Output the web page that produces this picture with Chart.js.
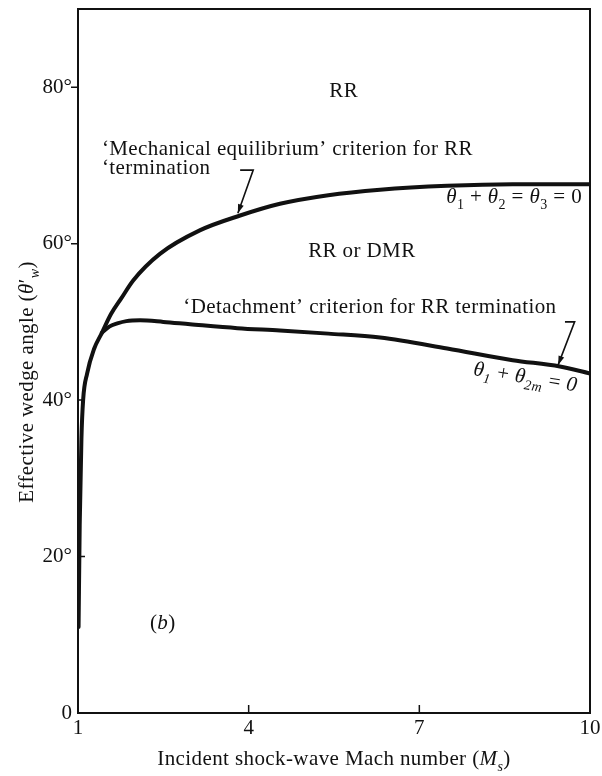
<!DOCTYPE html>
<html>
<head>
<meta charset="utf-8">
<script src="https://cdn.jsdelivr.net/npm/chart.js@4/dist/chart.umd.min.js"></script>
<style>
  html, body { margin: 0; padding: 0; background: #fff; }
  canvas { display: block; }
</style>
</head>
<body>
<canvas id="chart" width="602" height="776"></canvas>
<script>
// 'Mechanical equilibrium' criterion (theta1 + theta2 = theta3 = 0)
const machMech  = [1.01, 1.03, 1.06, 1.09, 1.16, 1.28, 1.42, 1.58, 1.76, 1.97, 2.44, 3.14, 3.85, 4.55, 5.4, 6.31, 7.49, 8.64, 10];
const thetaMech = [11, 24, 35, 40, 43.4, 46.5, 48.6, 51.0, 53.0, 55.3, 58.7, 61.7, 63.6, 65.1, 66.2, 66.9, 67.4, 67.6, 67.6];

// 'Detachment' criterion (theta1 + theta2m = 0), splits off at Ms ~ 1.4
const machDetach  = [1.42, 1.55, 1.69, 1.85, 2.09, 2.5, 2.97, 3.8, 4.55, 5.4, 6.31, 7.49, 8.64, 9.47, 10];
const thetaDetach = [48.6, 49.4, 49.8, 50.1, 50.2, 50.0, 49.7, 49.2, 48.9, 48.5, 48.0, 46.6, 45.1, 44.3, 43.4];

const machTicks  = [1, 4, 7, 10];
const angleTicks = [0, 20, 40, 60, 80];

const SERIF = '"Liberation Serif", "DejaVu Serif", serif';
const INK = '#111';
const SIZE = 21;

// labels placed in data space: [Ms, angle] of the baseline anchor
const notes = [
    { at: [5.67, 78.7], align: 'center', parts: [['RR', '']] },
    { at: [1.42, 71.3], align: 'left', parts: [['\u2018Mechanical equilibrium\u2019 criterion for RR', '']] },
    { at: [1.42, 68.85], align: 'left', parts: [['\u2018termination', '']] },
    { at: [9.86, 65.2], align: 'right', parts: [['\u03b8', 'i'], ['1', 'sub'], [' + ', ''], ['\u03b8', 'i'], ['2', 'sub'], [' = ', ''], ['\u03b8', 'i'], ['3', 'sub'], [' = 0', '']] },
    { at: [5.99, 58.3], align: 'center', parts: [['RR or DMR', '']] },
    { at: [2.85, 51.15], align: 'left', parts: [['\u2018Detachment\u2019 criterion for RR termination', '']] },
    { at: [7.94, 43.2], align: 'left', rot: 9, parts: [['\u03b8', 'i'], ['1', 'isub'], [' + ', ''], ['\u03b8', 'i'], ['2m', 'isub'], [' = ', ''], ['0', 'i']] },
    { at: [2.49, 10.7], align: 'center', parts: [['(', ''], ['b', 'i'], [')', '']] }
];

// leader lines: bar, then down to the curve (last point gets the arrow head)
const pointers = [
    [[3.85, 69.4], [4.08, 69.4], [3.81, 63.9]],
    [[9.56, 50.0], [9.73, 50.0], [9.44, 44.5]]
];

const xTitle = [['Incident shock-wave Mach number (', ''], ['M', 'i'], ['s', 'isub'], [')', '']];
const yTitle = [['Effective wedge angle (', ''], ['\u03b8', 'i'], ['\u2032', ''], ['w', 'isub'], [')', '']];

function pts(xs, ys) {
    return xs.map((x, i) => ({ x, y: ys[i] }));
}

function fontFor(style, size) {
    const italic = style.startsWith('i') ? 'italic ' : '';
    const s = style.endsWith('sub') ? Math.round(size * 0.68) : size;
    return `${italic}${s}px ${SERIF}`;
}

function drawRich(ctx, parts, x, y, size, align) {
    let w = 0;
    parts.forEach(([t, st]) => { ctx.font = fontFor(st, size); w += ctx.measureText(t).width; });
    let cx = align === 'center' ? x - w / 2 : align === 'right' ? x - w : x;
    ctx.textAlign = 'left';
    ctx.textBaseline = 'alphabetic';
    parts.forEach(([t, st]) => {
        ctx.font = fontFor(st, size);
        const dy = st.endsWith('sub') ? size * 0.28 : 0;
        ctx.fillText(t, cx, y + dy);
        cx += ctx.measureText(t).width;
    });
}

const decor = {
    id: 'decor',
    afterDraw(chart) {
        const { ctx, chartArea: a, scales: { x, y } } = chart;
        ctx.save();
        ctx.strokeStyle = INK;
        ctx.fillStyle = INK;

        // frame
        ctx.lineWidth = 2;
        ctx.strokeRect(a.left, a.top, a.right - a.left, a.bottom - a.top);

        // tick marks
        ctx.lineWidth = 1.5;
        ctx.beginPath();
        machTicks.slice(1, -1).forEach(v => {
            const px = x.getPixelForValue(v);
            ctx.moveTo(px, a.bottom);
            ctx.lineTo(px, a.bottom - 8);
        });
        angleTicks.slice(1).forEach(v => {
            const py = y.getPixelForValue(v);
            if (v >= 60) { ctx.moveTo(a.left - 7, py); ctx.lineTo(a.left, py); }
            else { ctx.moveTo(a.left, py); ctx.lineTo(a.left + 7, py); }
        });
        ctx.stroke();

        // leader arrows
        ctx.lineWidth = 1.6;
        pointers.forEach(p => {
            const q = p.map(([mx, my]) => [x.getPixelForValue(mx), y.getPixelForValue(my)]);
            ctx.beginPath();
            q.forEach(([px, py], i) => i ? ctx.lineTo(px, py) : ctx.moveTo(px, py));
            ctx.stroke();
            const [x1, y1] = q[q.length - 2];
            const [x2, y2] = q[q.length - 1];
            const ang = Math.atan2(y2 - y1, x2 - x1);
            ctx.beginPath();
            ctx.moveTo(x2, y2);
            ctx.lineTo(x2 - 9 * Math.cos(ang) + 3 * Math.sin(ang), y2 - 9 * Math.sin(ang) - 3 * Math.cos(ang));
            ctx.lineTo(x2 - 9 * Math.cos(ang) - 3 * Math.sin(ang), y2 - 9 * Math.sin(ang) + 3 * Math.cos(ang));
            ctx.closePath();
            ctx.fill();
        });

        // in-plot labels
        ctx.letterSpacing = '0.4px';
        notes.forEach(n => {
            const px = x.getPixelForValue(n.at[0]);
            const py = y.getPixelForValue(n.at[1]);
            ctx.save();
            ctx.translate(px, py);
            if (n.rot) ctx.rotate(n.rot * Math.PI / 180);
            drawRich(ctx, n.parts, 0, 0, SIZE, n.align);
            ctx.restore();
        });

        // axis titles
        drawRich(ctx, xTitle, (a.left + a.right) / 2, 765, SIZE, 'center');
        ctx.save();
        ctx.translate(33, 382);
        ctx.rotate(-Math.PI / 2);
        drawRich(ctx, yTitle, 0, 0, SIZE, 'center');
        ctx.restore();

        ctx.restore();
    }
};

const line = { borderColor: INK, borderWidth: 4, pointRadius: 0, borderCapStyle: 'round', borderJoinStyle: 'round', cubicInterpolationMode: 'monotone', fill: false };

new Chart(document.getElementById('chart'), {
    type: 'line',
    data: {
        datasets: [
            Object.assign({ label: 'Mechanical equilibrium', data: pts(machMech, thetaMech) }, line),
            Object.assign({ label: 'Detachment', data: pts(machDetach, thetaDetach) }, line)
        ]
    },
    options: {
        responsive: false,
        animation: false,
        devicePixelRatio: 1,
        layout: { padding: { left: 0, right: 12, top: 9, bottom: 0 } },
        plugins: { legend: { display: false }, tooltip: { enabled: false } },
        scales: {
            x: {
                type: 'linear', min: 1, max: 10,
                grid: { display: false, drawTicks: false },
                border: { display: false },
                ticks: { padding: 3, color: INK, maxRotation: 0, font: { family: SERIF, size: SIZE } },
                afterBuildTicks: s => { s.ticks = machTicks.map(v => ({ value: v })); },
                afterFit: s => { s.height = 63; s.paddingLeft = 0; s.paddingRight = 0; }
            },
            y: {
                min: 0, max: 90,
                grid: { display: false, drawTicks: false },
                border: { display: false },
                ticks: { padding: 6, color: INK, font: { family: SERIF, size: SIZE }, callback: v => v === 0 ? '0' : v + '\u00b0' },
                afterBuildTicks: s => { s.ticks = angleTicks.map(v => ({ value: v })); },
                afterFit: s => { s.width = 78; s.paddingTop = 0; s.paddingBottom = 0; }
            }
        }
    },
    plugins: [decor]
});
</script>
</body>
</html>
